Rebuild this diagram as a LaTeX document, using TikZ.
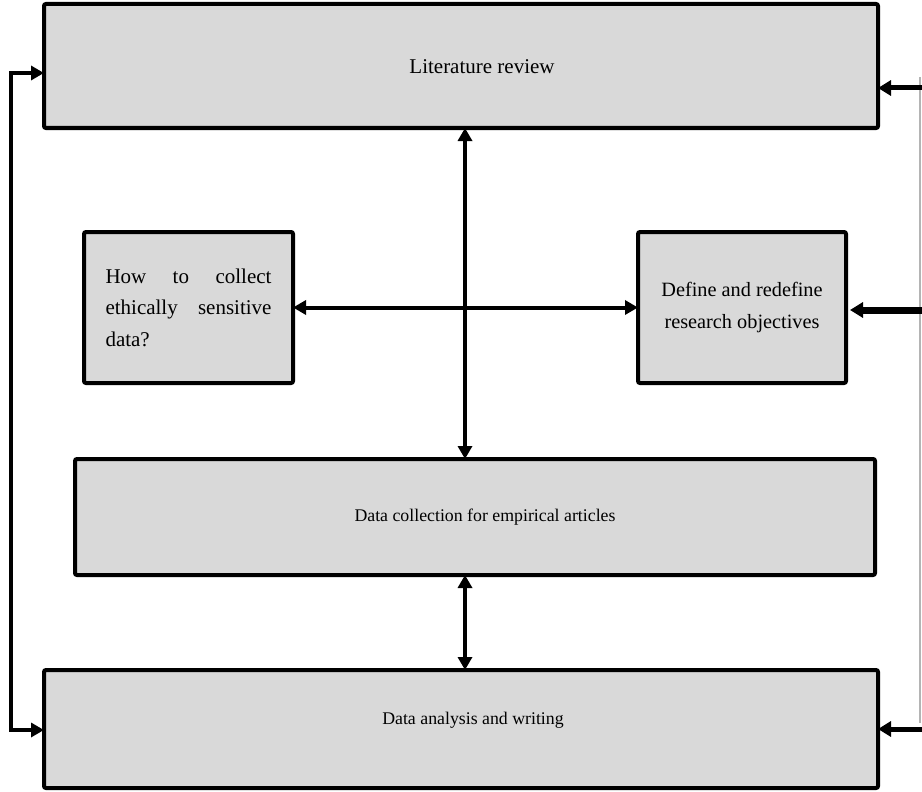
\documentclass[tikz,border=0pt]{standalone}
\usepackage{fontspec}
\setmainfont{Liberation Serif}
\usetikzlibrary{arrows.meta}
\begin{document}
\begin{tikzpicture}[x=1pt,y=-1pt,
  box/.style={draw=black,line width=4pt,fill=boxgray,rounded corners=2pt,
    inner sep=0pt,outer sep=0pt},
  label/.style={inner sep=0pt},
  link/.style={line width=4pt,{Triangle[length=13pt,width=14pt]}-{Triangle[length=13pt,width=14pt]}},
  feed/.style={line width=5pt,-{Triangle[length=13pt,width=15pt]}},
  rail/.style={draw=railgray,line width=1.5pt}]
\definecolor{boxgray}{RGB}{217,217,217}
\definecolor{railgray}{RGB}{180,180,180}
\useasboundingbox (0,0) rectangle (922,792);

% main boxes
\node[box,minimum width=834pt,minimum height=124pt] (lit) at (461,66) {};
\node[label,font=\fontsize{21}{31}\selectfont] (littext) at (482,67) {Literature review};

\node[box,minimum width=209pt,minimum height=151pt,text width=166pt,align=left,
  font=\fontsize{21}{31.5}\selectfont] (how) at (188.5,307.5)
  {How\hfill to\hfill collect\\ethically\hfill sensitive\\data?};

\node[box,minimum width=208pt,minimum height=151pt,align=center,
  font=\fontsize{20.3}{32}\selectfont] (def) at (742,307.5)
  {Define and redefine\\research objectives};

\node[box,minimum width=800pt,minimum height=116pt] (coll) at (475,517) {};
\node[label,font=\fontsize{17.8}{26}\selectfont] (colltext) at (485,517) {Data collection for empirical articles};

\node[box,minimum width=834pt,minimum height=118pt] (ana) at (461,729) {};
\node[label,font=\fontsize{17.8}{26}\selectfont] (anatext) at (473,720) {Data analysis and writing};

% central connectors
\coordinate (spine) at (465,0);
\draw[link] (lit.south -| spine) -- (coll.north -| spine);
\draw[link] (coll.south -| spine) -- (ana.north -| spine);
\draw[link] (how.east) -- (def.east -| def.west);

% loop on the left
\coordinate (l1) at (10.5,73);
\coordinate (l2) at (10.5,730);
\draw[link] (lit.west |- l1) -- (l1) -- (l2) -- (ana.west |- l2);

% rail and inputs on the right
\coordinate (r0) at (920,77);
\coordinate (r1) at (920,723);
\draw[rail] (r0) -- (r1);
\coordinate (f1) at (922,88);
\coordinate (f2) at (922,310);
\coordinate (f3) at (922,729);
\draw[feed] (f1) -- (lit.east |- f1);
\draw[feed,line width=7pt] (f2) -- ([xshift=4pt]def.east |- f2);
\draw[feed] (f3) -- (ana.east |- f3);
\end{tikzpicture}
\end{document}
